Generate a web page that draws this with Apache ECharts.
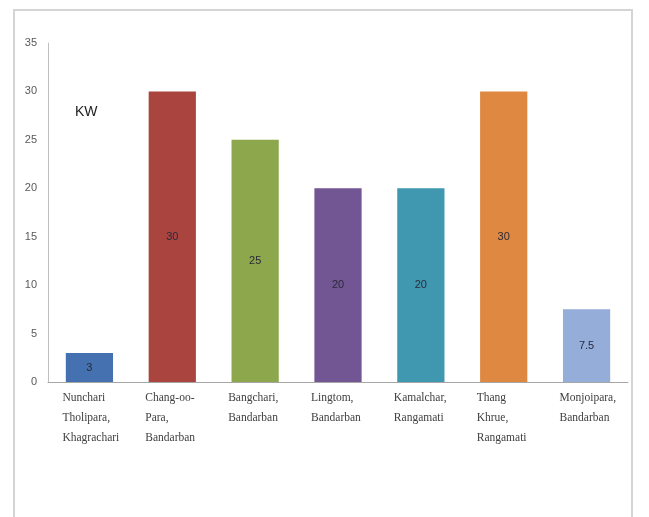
<!DOCTYPE html>
<html>
<head>
<meta charset="utf-8">
<script src="https://cdn.jsdelivr.net/npm/echarts@6/dist/echarts.min.js"></script>
<style>
html,body{margin:0;padding:0;background:#fff;}
#chart{width:649px;height:517px;}
</style>
</head>
<body>
<div id="chart"></div>
<script>
var categories = [
  "Nunchari\nTholipara,\nKhagrachari",
  "Chang-oo-\nPara,\nBandarban",
  "Bangchari,\nBandarban",
  "Lingtom,\nBandarban",
  "Kamalchar,\nRangamati",
  "Thang\nKhrue,\nRangamati",
  "Monjoipara,\nBandarban"
];
var values = [3, 30, 25, 20, 20, 30, 7.5];
var barColors = ["#4571B1", "#A9443F", "#8CA74C", "#725593", "#3F98B0", "#DE8841", "#95ADD9"];
var yTicks = [0, 5, 10, 15, 20, 25, 30, 35];
var unitLabel = "KW";

var chart = echarts.init(document.getElementById('chart'), null, {renderer: 'canvas'});
chart.setOption({
  backgroundColor: '#ffffff',
  animation: false,
  grid: {left: 48, right: 21, top: 43, bottom: 135},
  graphic: [
    {type: 'rect', shape: {x: 14, y: 10, width: 618, height: 520},
     style: {fill: 'none', stroke: '#d4d4d4', lineWidth: 2}, z: -1},
    {type: 'text', left: 75, top: 105,
     style: {text: unitLabel, fill: '#222', font: '14px "Liberation Sans", Arial, sans-serif'}}
  ],
  xAxis: {
    type: 'category',
    data: categories,
    axisLine: {show: true, lineStyle: {color: '#a6a6a6', width: 1}},
    axisTick: {show: false},
    axisLabel: {
      interval: 0,
      margin: 6,
      align: 'center',
      lineHeight: 20,
      formatter: function (v) {
        return v.split('\n').map(function (s) { return '{a|' + s + '}'; }).join('\n');
      },
      rich: {
        a: {width: 54, align: 'left', lineHeight: 20,
            fontFamily: '"Liberation Serif", "DejaVu Serif", serif', fontSize: 11.5, color: '#404040'}
      }
    }
  },
  yAxis: {
    type: 'value',
    min: yTicks[0],
    max: yTicks[yTicks.length - 1],
    interval: 5,
    splitLine: {show: false},
    axisLine: {show: true, lineStyle: {color: '#bfbfbf', width: 1}},
    axisTick: {show: false},
    axisLabel: {margin: 11, color: '#595959', fontSize: 11,
                fontFamily: '"Liberation Sans", Arial, sans-serif'}
  },
  series: [{
    type: 'bar',
    data: values.map(function (v, i) {
      return {value: v, itemStyle: {color: barColors[i]}};
    }),
    barWidth: '57%',
    label: {
      show: true,
      position: 'inside',
      color: '#2a2a3a',
      fontSize: 11,
      fontFamily: '"Liberation Sans", Arial, sans-serif'
    }
  }]
});
</script>
</body>
</html>
